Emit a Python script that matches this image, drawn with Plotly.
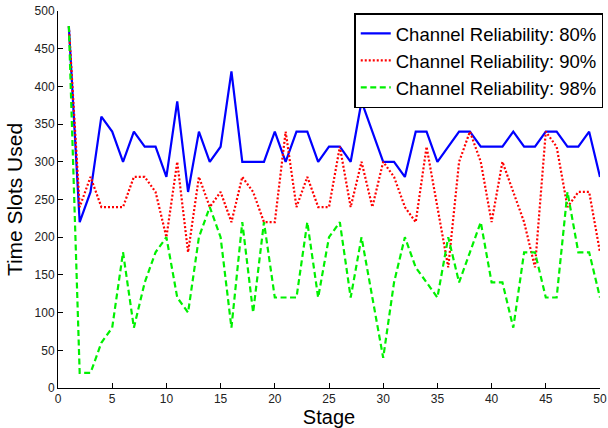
import plotly.graph_objects as go

stages = list(range(1, 51))

rel_80 = [480, 220, 260, 360, 340, 300, 340, 320, 320, 280,
          380, 260, 340, 300, 320, 420, 300, 300, 300, 340,
          300, 340, 340, 300, 320, 320, 300, 380, 340, 300,
          300, 280, 340, 340, 300, 320, 340, 340, 320, 320,
          320, 340, 320, 320, 340, 340, 320, 320, 340, 280]

rel_90 = [480, 240, 280, 240, 240, 240, 280, 280, 260, 200,
          300, 180, 280, 240, 260, 220, 280, 260, 220, 220,
          340, 240, 280, 240, 240, 320, 240, 300, 240, 300,
          280, 240, 220, 320, 240, 160, 300, 340, 300, 220,
          300, 260, 220, 160, 340, 320, 240, 260, 260, 180]

rel_98 = [480, 20, 20, 60, 80, 180, 80, 140, 180, 200,
          120, 100, 200, 240, 200, 80, 220, 100, 220, 120,
          120, 120, 220, 120, 200, 220, 120, 200, 120, 40,
          140, 200, 160, 140, 120, 200, 140, 180, 220, 140,
          140, 80, 180, 180, 120, 120, 260, 180, 180, 120]

series_names = ["Channel Reliability: 80%", "Channel Reliability: 90%", "Channel Reliability: 98%"]
x_ticks = [0, 5, 10, 15, 20, 25, 30, 35, 40, 45, 50]
y_ticks = [0, 50, 100, 150, 200, 250, 300, 350, 400, 450, 500]

fig = go.Figure()
fig.add_trace(go.Scatter(x=stages, y=rel_80, mode="lines", name=series_names[0],
                         line=dict(color="#0000FF", width=2.2)))
fig.add_trace(go.Scatter(x=stages, y=rel_90, mode="lines", name=series_names[1],
                         line=dict(color="#FF0000", width=2.2, dash="2px,2px")))
fig.add_trace(go.Scatter(x=stages, y=rel_98, mode="lines", name=series_names[2],
                         line=dict(color="#00F000", width=2.2, dash="6px,3.5px")))

axis_common = dict(showline=True, linecolor="black", linewidth=1, ticks="inside",
                   ticklen=5, tickcolor="black", showgrid=False, zeroline=False,
                   mirror=False, automargin=False,
                   tickfont=dict(size=12, color="#222222",
                                 family="Liberation Sans, Arial, sans-serif"))

fig.update_layout(
    width=608, height=428,
    margin=dict(l=58, r=5, t=11, b=40),
    plot_bgcolor="white", paper_bgcolor="white",
    font=dict(family="Liberation Sans, Arial, sans-serif", color="black"),
    xaxis=dict(range=[0, 50], tickvals=x_ticks,
               title=dict(text="Stage", font=dict(size=20), standoff=0),
               **axis_common),
    yaxis=dict(range=[0, 500], tickvals=y_ticks,
               title=dict(text="Time Slots Used", font=dict(size=21), standoff=6),
               **axis_common),
    legend=dict(x=1.006, y=0.994, xanchor="right", yanchor="top",
                bordercolor="black", borderwidth=1.5, bgcolor="white",
                font=dict(size=18.5, color="black"), tracegroupgap=0,
                itemwidth=30),
    showlegend=True,
)

fig.write_html("out.html", config={"displayModeBar": False},
               post_script="document.body.style.margin='0';document.body.style.overflow='hidden';")
